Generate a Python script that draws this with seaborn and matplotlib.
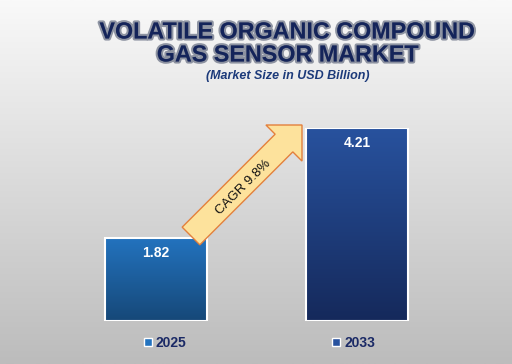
import numpy as np
import pandas as pd
import matplotlib
matplotlib.use("Agg")
import matplotlib.pyplot as plt
import matplotlib.patches as mpatches
import matplotlib.patheffects as pe
from matplotlib.colors import LinearSegmentedColormap
from matplotlib.transforms import IdentityTransform
import seaborn as sns

years = ["2025", "2033"]
values = [1.82, 4.21]
value_labels = ["1.82", "4.21"]
cagr_label = "CAGR 9.8%"
title_lines = ["VOLATILE ORGANIC COMPOUND", "GAS SENSOR MARKET"]
subtitle = "(Market Size in USD Billion)"

bar_top_colors = ["#2373bf", "#28529e"]
bar_bottom_colors = ["#164878", "#15295b"]

sns.set_theme(style="white")
plt.rcParams["font.family"] = ["Liberation Sans", "DejaVu Sans"]

W, H = 512, 364
fig = plt.figure(figsize=(W / 100, H / 100), dpi=100)

# background gradient
bg = fig.add_axes([0, 0, 1, 1], zorder=-10)
grad = np.linspace(0, 1, 256).reshape(-1, 1)
bg_cmap = LinearSegmentedColormap.from_list("bg", ["#f9f9f9", "#bcbcbc"])
bg.imshow(grad, aspect="auto", cmap=bg_cmap, extent=[0, 1, 0, 1])
bg.set_axis_off()

ax = fig.add_axes([35.4 / W, 43 / H, 442 / W, 193 / H])
ax.patch.set_alpha(0)
df = pd.DataFrame({"year": years, "value": values})
sns.barplot(data=df, x="year", y="value", hue="year", palette=bar_top_colors,
            width=0.507, legend=False, ax=ax, saturation=1)
ax.set_xlim(-0.6, 1.6)
ax.set_ylim(0, max(values))
ax.set_axis_off()

for i, patch in enumerate(ax.patches):
    x0, y0 = patch.get_x(), patch.get_y()
    w, h = patch.get_width(), patch.get_height()
    cm = LinearSegmentedColormap.from_list(f"b{i}", [bar_bottom_colors[i], bar_top_colors[i]])
    im = ax.imshow(np.linspace(1, 0, 256).reshape(-1, 1), cmap=cm, aspect="auto",
                   extent=[x0, x0 + w, y0, y0 + h], zorder=2)
    im.set_clip_path(patch)
    patch.set_facecolor("none")
    patch.set_edgecolor("white")
    patch.set_linewidth(1.5)
    patch.set_zorder(3)
    ax.annotate(value_labels[i], (x0 + w / 2, y0 + h), xytext=(0, -6),
                textcoords="offset points", ha="center", va="top",
                color="white", fontsize=10, fontweight="bold", zorder=4)

ax.set_xlim(-0.6, 1.6)
ax.set_ylim(0, max(values))

# legend
handles = [mpatches.Patch(facecolor=bar_top_colors[i], edgecolor="white", linewidth=1.0, label=years[i])
           for i in range(len(years))]
leg = fig.legend(handles=handles, loc="center", bbox_to_anchor=(0.507, 1 - 343 / H), ncol=2,
                 frameon=False, handlelength=0.55, handleheight=0.55, handletextpad=0.3,
                 columnspacing=10.5,
                 prop={"weight": "bold", "size": 10})
for t in leg.get_texts():
    t.set_color("#1b2a66")

# CAGR arrow (pixel coordinates, origin bottom-left)
tail = (191, H - 236)
arrow = mpatches.FancyArrow(tail[0], tail[1], 111, 111, width=25, head_width=51,
                            head_length=25.5, length_includes_head=True,
                            transform=IdentityTransform(), facecolor="#fde29c",
                            edgecolor="#e3803c", linewidth=1.0, zorder=5)
fig.patches.append(arrow)
arrow.set_figure(fig)
fig.text(243 / W, 1 - 187 / H, cagr_label, rotation=45, ha="center", va="center",
         fontsize=9.5, color="#111111", rotation_mode="anchor", zorder=6)

# titles
glow = [pe.Stroke(linewidth=3.0, foreground="#3c4660", alpha=0.55), pe.Normal()]
for k, yy in enumerate([32, 55]):
    fig.text(288 / W, 1 - yy / H, title_lines[k], ha="center", va="center", fontsize=16.8,
             fontweight="bold", color="#14245a", path_effects=glow)
fig.text(288 / W, 1 - 76 / H, subtitle, ha="center", va="center", fontsize=9,
         fontweight="bold", fontstyle="italic", color="#1c3a7a")

fig.savefig("out.png", dpi=100)
